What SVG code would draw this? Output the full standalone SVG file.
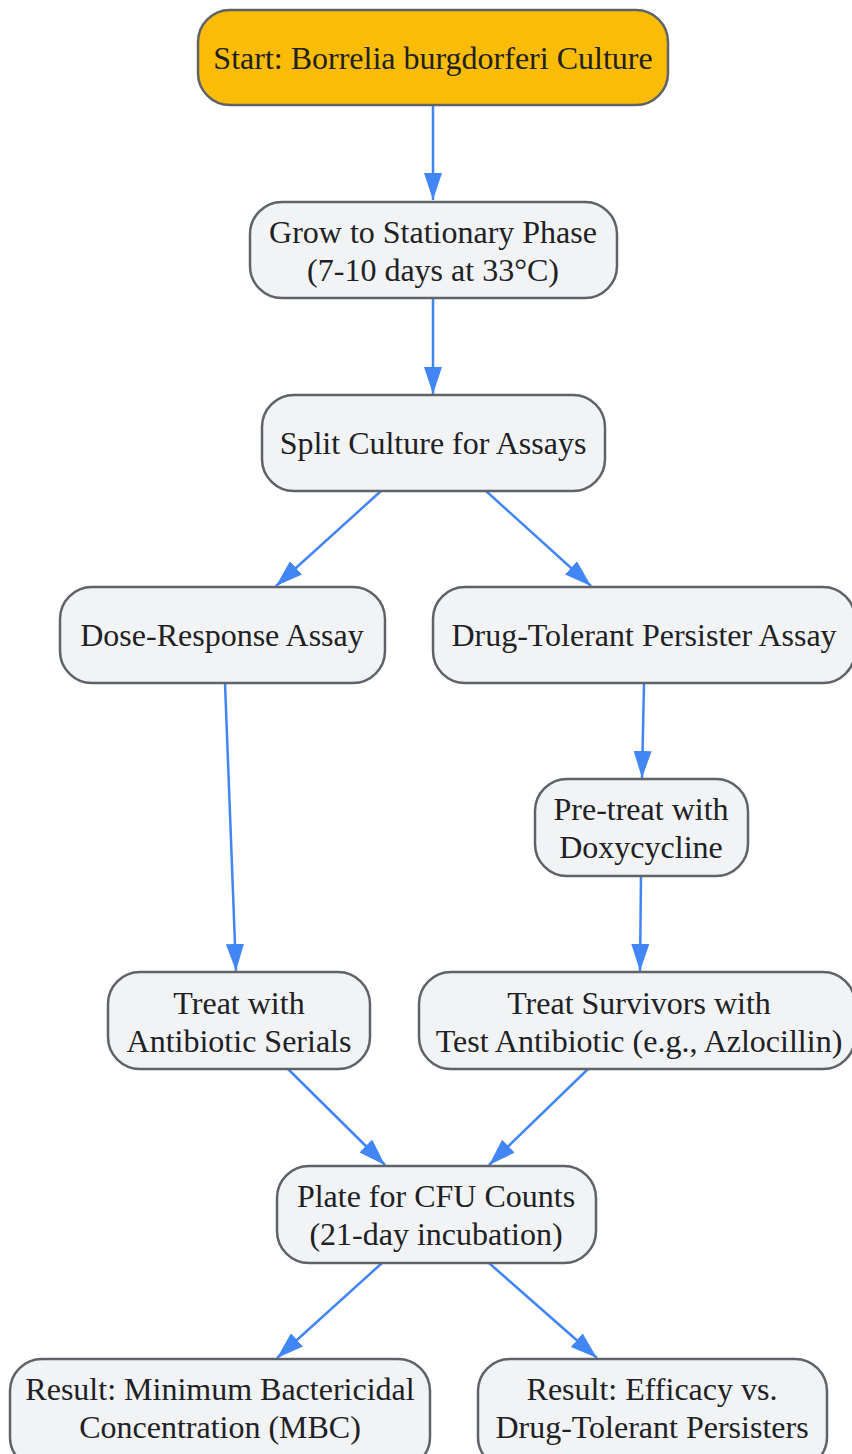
<svg xmlns="http://www.w3.org/2000/svg" width="852" height="1454" viewBox="0 0 852 1454">
<defs>
<marker id="ah" viewBox="0 0 27 18" refX="27" refY="9" markerWidth="27" markerHeight="18" markerUnits="userSpaceOnUse" orient="auto">
<path d="M0,0 L27,9 L0,18 Z" fill="#4285F4"/>
</marker>
<style>
.n rect{fill:#F1F3F4;stroke:#5F6368;stroke-width:2.5}
.n.s rect{fill:#FBBC05}
.n text{font-family:"Liberation Serif","Times New Roman",serif;font-size:32px;fill:#202124;text-anchor:middle}
.e path{stroke:#4285F4;stroke-width:2.5;fill:none;marker-end:url(#ah)}
</style>
</defs>
<rect width="852" height="1454" fill="#FFFFFF"/>
<g class="e" id="connectors">
<path d="M433,105 L433,200"/>
<path d="M433,298 L433,394"/>
<path d="M381,491 L276,586"/>
<path d="M486,491 L591,586"/>
<path d="M225,683 L236,971"/>
<path d="M644,683 L642,778"/>
<path d="M641,876 L640,971"/>
<path d="M288,1069 L385,1165"/>
<path d="M588,1069 L489,1165"/>
<path d="M382,1263 L277,1358"/>
<path d="M489,1263 L597,1358"/>
</g>
<g class="n s" id="start"><rect x="198" y="10" width="470" height="95" rx="32"/><text x="433" y="69">Start: Borrelia burgdorferi Culture</text></g>
<g class="n" id="grow"><rect x="250" y="202" width="367" height="96" rx="32"/><text x="433" y="243">Grow to Stationary Phase</text><text x="433" y="281">(7-10 days at 33°C)</text></g>
<g class="n" id="split"><rect x="262" y="395" width="343" height="96" rx="32"/><text x="433" y="454">Split Culture for Assays</text></g>
<g class="n" id="dose"><rect x="60" y="587" width="325" height="96" rx="32"/><text x="222" y="646">Dose-Response Assay</text></g>
<g class="n" id="persister"><rect x="433" y="587" width="422" height="96" rx="32"/><text x="644" y="646">Drug-Tolerant Persister Assay</text></g>
<g class="n" id="pretreat"><rect x="535" y="779" width="213" height="97" rx="32"/><text x="641" y="820">Pre-treat with</text><text x="641" y="858">Doxycycline</text></g>
<g class="n" id="treat"><rect x="108" y="972" width="262" height="97" rx="32"/><text x="239" y="1014">Treat with</text><text x="239" y="1052">Antibiotic Serials</text></g>
<g class="n" id="survivors"><rect x="419" y="972" width="436" height="97" rx="32"/><text x="639" y="1014">Treat Survivors with</text><text x="639" y="1052">Test Antibiotic (e.g., Azlocillin)</text></g>
<g class="n" id="plate"><rect x="277" y="1166" width="319" height="97" rx="32"/><text x="436" y="1207">Plate for CFU Counts</text><text x="436" y="1245">(21-day incubation)</text></g>
<g class="n" id="mbc"><rect x="10" y="1359" width="420" height="110" rx="32"/><text x="220" y="1400">Result: Minimum Bactericidal</text><text x="220" y="1438">Concentration (MBC)</text></g>
<g class="n" id="efficacy"><rect x="478" y="1359" width="349" height="110" rx="32"/><text x="652" y="1400">Result: Efficacy vs.</text><text x="652" y="1438">Drug-Tolerant Persisters</text></g>
</svg>
